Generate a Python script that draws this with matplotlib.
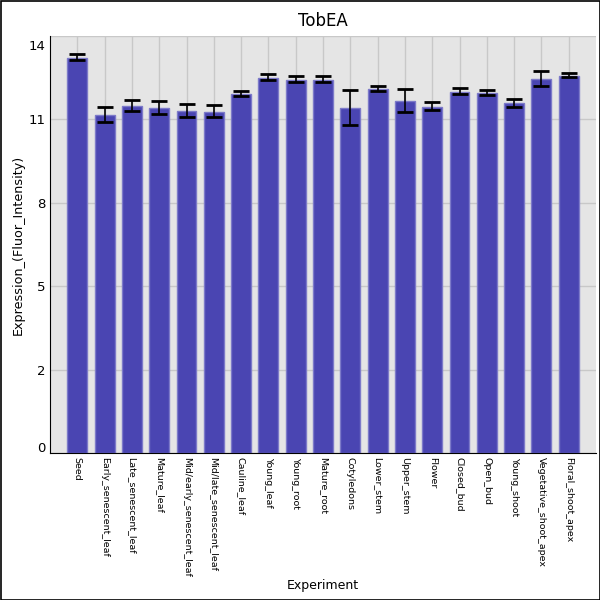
import matplotlib
matplotlib.use("Agg")
import matplotlib.pyplot as plt
import matplotlib.transforms as mtransforms
from matplotlib.patches import Rectangle

categories = ["Seed", "Early_senescent_leaf", "Late_senescent_leaf", "Mature_leaf",
              "Mid/early_senescent_leaf", "Mid/late_senescent_leaf", "Cauline_leaf",
              "Young_leaf", "Young_root", "Mature_root", "Cotyledons", "Lower_stem",
              "Upper_stem", "Flower", "Closed_bud", "Open_bud", "Young_shoot",
              "Vegetative_shoot_apex", "Floral_shoot_apex"]
values = [13.26, 11.35, 11.65, 11.59, 11.49, 11.45, 12.06, 12.59, 12.53, 12.53,
          11.59, 12.22, 11.82, 11.62, 12.12, 12.09, 11.74, 12.56, 12.66]
errors = [0.10, 0.24, 0.18, 0.21, 0.22, 0.20, 0.09, 0.09, 0.09, 0.10,
          0.58, 0.08, 0.39, 0.13, 0.10, 0.09, 0.13, 0.25, 0.07]
centers = [13.30, 11.37, 11.67, 11.60, 11.49, 11.47, 12.08, 12.62, 12.56, 12.56,
           11.61, 12.24, 11.84, 11.64, 12.14, 12.11, 11.76, 12.58, 12.68]
ytick_values = [0, 2.8, 5.6, 8.4, 11.2, 14]
ytick_labels = ["0", "2", "5", "8", "11", "14"]

fig = plt.figure(figsize=(6, 6), dpi=100)
ax = fig.add_axes([50/600, 1 - 453.3/600, 546/600, (453.3 - 36)/600])
ax.set_facecolor("#e5e5e5")

x = list(range(len(categories)))
ax.bar(x, values, width=0.73, color="#4a45b2", edgecolor="#7d7ac9", linewidth=1, zorder=2)
ax.errorbar(x, centers, yerr=errors, fmt="none", ecolor="black", elinewidth=1.2,
            capsize=6, capthick=2, zorder=3)

ax.set_xlim(-1, len(categories))
ax.set_ylim(0, 14)
ax.set_yticks(ytick_values)
ax.set_yticklabels(ytick_labels, fontsize=9.5)
ax.set_xticks(x)
ax.set_xticklabels(categories, rotation=-90, fontsize=6.8, va="top", ha="center")
ax.tick_params(length=0, pad=3)
ax.tick_params(axis="y", pad=3)

ylabs = ax.get_yticklabels()
ylabs[0].set_transform(ylabs[0].get_transform() + mtransforms.ScaledTranslation(0, 6/100, fig.dpi_scale_trans))
ylabs[-1].set_transform(ylabs[-1].get_transform() + mtransforms.ScaledTranslation(0, -9/100, fig.dpi_scale_trans))

ax.grid(True, color="#c8c8c8", linewidth=1, zorder=0)
ax.set_axisbelow(True)
for s in ["top", "right"]:
    ax.spines[s].set_visible(False)
ax.spines["left"].set_color("black")
ax.spines["bottom"].set_color("black")

ax.set_title("TobEA", fontsize=12, pad=7)
ax.set_xlabel("Experiment", fontsize=9)
ax.xaxis.set_label_coords(0.5, -(579 - 453.3)/417.3)
ax.set_ylabel("Expression_(Fluor_Intensity)", fontsize=9.2)
ax.yaxis.set_label_coords(-(50 - 25)/546, 0.5)

fig.add_artist(Rectangle((0.5/600, 0.5/600), 599/600, 599/600, transform=fig.transFigure,
                         fill=False, edgecolor="black", linewidth=1.2))

fig.savefig("out.png", dpi=100)
